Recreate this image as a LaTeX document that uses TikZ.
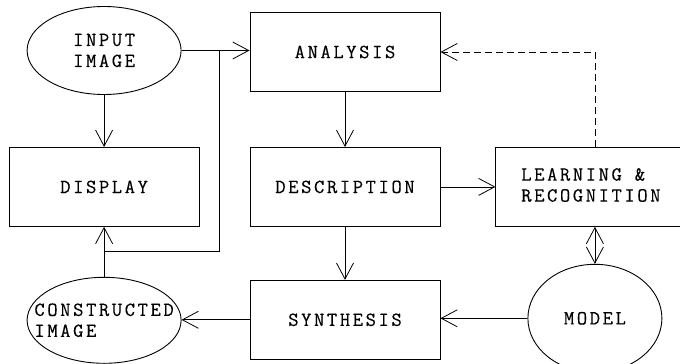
\documentclass[tikz,border=0pt]{standalone}
\usepackage{fontspec}
\setmonofont{Latin Modern Mono}[LetterSpace=13,FakeBold=0.35]
\tikzset{every picture/.style={/utils/exec={\ttfamily}}}
\usetikzlibrary{calc}
\usetikzlibrary{positioning}
\usetikzlibrary{shapes.geometric}
\usetikzlibrary{arrows.meta}
\tikzset{node distance=50pt, % gap between the blocks
  every node/.style={align=center,
    font=\ttfamily\fontsize{20}{21}\selectfont},
         block/.style={ % rectangular stages
           draw, line width=0.9pt,
           minimum width=190pt, minimum height=79pt},
         oval/.style={ % images and model
           draw, line width=0.9pt, ellipse, inner sep=0pt},
         >={Straight Barb[length=16pt,width=17pt]},
         every edge/.style={  % connectors
           draw, ->,
           line width=0.8pt}}

\begin{document}
\begin{tikzpicture}[x=1pt,y=-1pt]
  \useasboundingbox (0,0) rectangle (680,364);

  \node [block] (ana) at (345,52) {ANALYSIS};
  \node [block, below=55pt of ana] (des) {DESCRIPTION};
  \node [block, below=53pt of des] (syn) {SYNTHESIS};
  \node [block, left=50pt of des] (dis) {DISPLAY};
  \node [block, right=55pt of des] (lrn) {\begin{tabular}{@{}l@{}}LEARNING \&\\RECOGNITION\end{tabular}};
  \node [oval, minimum width=154pt, minimum height=88pt, above=52pt of dis] (inp) {INPUT\\IMAGE};
  \node [oval, minimum width=154pt, minimum height=86pt, below=50pt of dis] (con) {};
  \node [align=left, xshift=0pt] (contxt) at (con) {CONSTRUCTED\\IMAGE};
  \node [oval, minimum width=134pt, minimum height=108pt, below=37pt of lrn, xshift=4pt] (mdl) {MODEL};

  % input image goes to analysis and display
  \coordinate (split) at ($(inp.east)!0.55!(inp.east -| ana.west)$);
  \coordinate (join) at ($(dis.south)!0.5!(con.north)$);
  \draw (inp.east) edge (inp.east -| ana.west);
  \draw (inp) edge (dis);
  \draw [line width=0.8pt] (split) |- (join);

  % main chain
  \draw (ana) edge (des);
  \draw (des) edge (syn);
  \draw (des.east) edge (des.east -| lrn.west);
  \draw (lrn.south -| mdl.north) edge [<->] (mdl.north);
  \draw (mdl.west) edge (mdl.west -| syn.east);
  \draw (syn.west) edge (syn.west -| con.east);
  \draw (con) edge (dis);

  % feedback
  \draw [->, dashed, dash pattern=on 7pt off 4pt, line width=0.8pt] (lrn.north -| mdl.north) |- (ana.east);

\end{tikzpicture}
\end{document}
